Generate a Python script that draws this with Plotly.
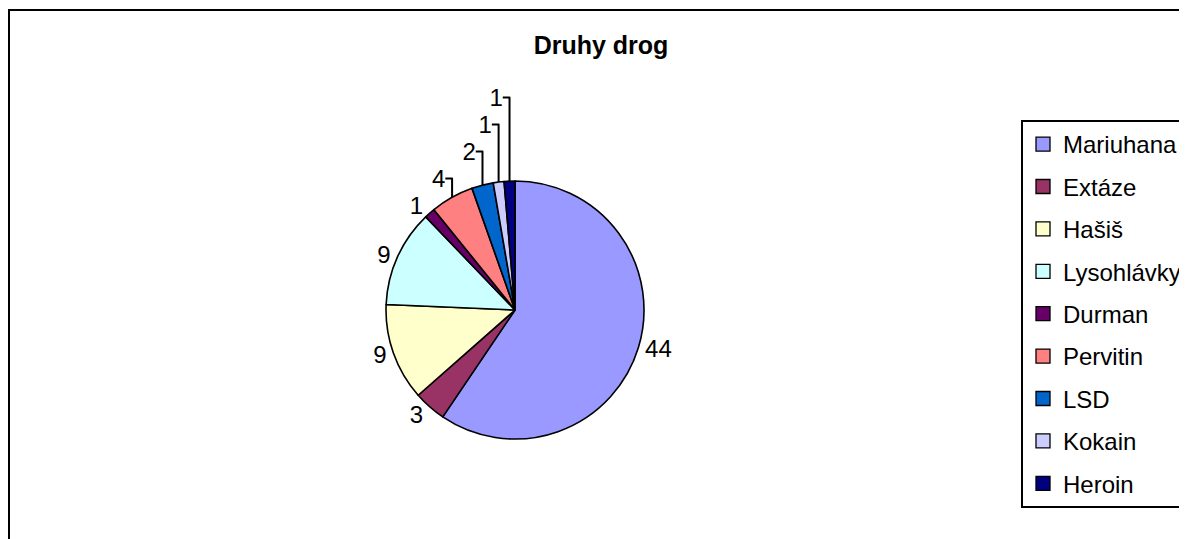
import plotly.graph_objects as go

labels = ["Mariuhana", "Extáze", "Hašiš", "Lysohlávky", "Durman", "Pervitin", "LSD", "Kokain", "Heroin"]
values = [44, 3, 9, 9, 1, 4, 2, 1, 1]
colors = ["#9999FF", "#993366", "#FFFFCC", "#CCFFFF", "#660066", "#FF8080", "#0066CC", "#CCCCFF", "#000080"]
title_text = "Druhy drog"

W, H = 1187, 539
FONT = "Liberation Sans, Arial, sans-serif"
FS = 24

# pie geometry in paper pixels (top-left origin)
CX, CY, R = 507, 302, 129

fig = go.Figure()

fig.add_trace(go.Pie(
    labels=labels, values=values, sort=False, direction="clockwise", rotation=0,
    marker=dict(colors=colors, line=dict(color="black", width=1.6)),
    textinfo="value", textposition="outside",
    textfont=dict(family=FONT, size=FS, color="black"),
    domain=dict(x=[(CX - R) / W, (CX + R) / W], y=[(H - CY - R) / H, (H - CY + R) / H]),
    showlegend=False, hoverinfo="label+value",
))

# legend entries (one group per item so spacing can match)
for lab, col in zip(labels, colors):
    fig.add_trace(go.Scatter(
        x=[None], y=[None], mode="markers", name=lab, legendgroup=lab,
        marker=dict(symbol="square", size=14, color=col, line=dict(color="black", width=1.3)),
        showlegend=True,
    ))

fig.update_layout(
    width=W, height=H,
    margin=dict(l=0, r=0, t=0, b=0),
    paper_bgcolor="white", plot_bgcolor="white",
    font=dict(family=FONT, size=FS, color="black"),
    title=dict(text="<b>" + title_text + "</b>", x=593 / W, xanchor="center",
               y=1 - 37 / H, yanchor="middle", font=dict(family=FONT, size=25, color="black")),
    xaxis=dict(visible=False), yaxis=dict(visible=False),
    legend=dict(x=1013 / W, xanchor="left", y=1 - 112 / H, yanchor="top",
                bordercolor="black", borderwidth=2, bgcolor="white",
                font=dict(family=FONT, size=FS, color="black"),
                tracegroupgap=8.2, itemwidth=30),
    shapes=[dict(type="rect", xref="paper", yref="paper",
                 x0=1 / W, x1=1 - 1 / W, y0=1 / H, y1=1 - 2 / H,
                 line=dict(color="black", width=2), fillcolor="rgba(0,0,0,0)")],
)

fig.write_html("out.html")
